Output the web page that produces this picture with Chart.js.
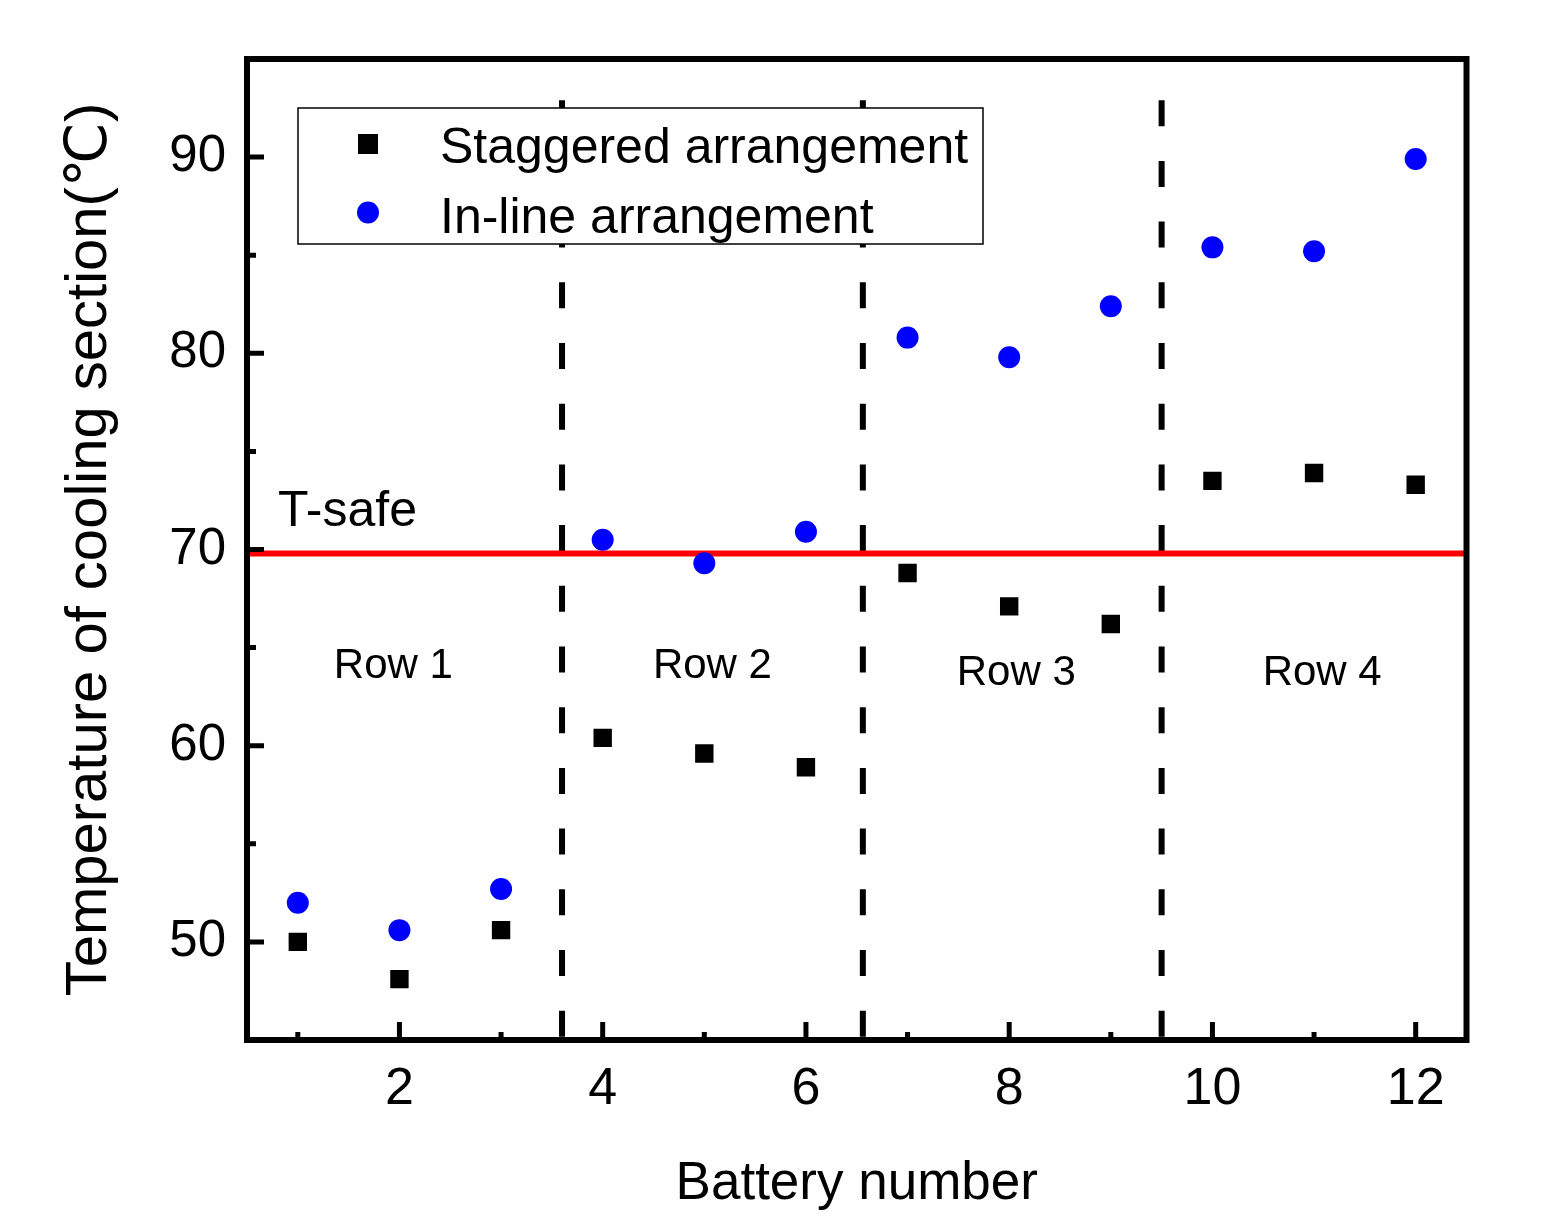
<!DOCTYPE html>
<html lang="en">
<head>
    <meta charset="UTF-8">
    <title>Temperature of cooling section</title>
    <script src="https://cdn.jsdelivr.net/npm/chart.js"></script>
    <style>
        html, body { margin: 0; padding: 0; background: #fff; }
        #grafico { width: 1543px; height: 1218px; }
    </style>
</head>
<body>
    <div id="grafico">
        <canvas id="grafico-info" width="1543" height="1218"></canvas>
    </div>
    <script>
        // data
        const batteries = [1, 2, 3, 4, 5, 6, 7, 8, 9, 10, 11, 12];
        const staggered = [50.0, 48.1, 50.6, 60.4, 59.6, 58.9, 68.8, 67.1, 66.2, 73.5, 73.9, 73.3];
        const inLine = [52.0, 50.6, 52.7, 70.5, 69.3, 70.9, 80.8, 79.8, 82.4, 85.4, 85.2, 89.9];
        const tSafe = 69.8;
        const rowBounds = [3.6, 6.56, 9.5];
        const rowNames = ['Row 1', 'Row 2', 'Row 3', 'Row 4'];
        const xTicks = [2, 4, 6, 8, 10, 12];
        const xMinor = [1, 3, 5, 7, 9, 11];
        const yTicks = [50, 60, 70, 80, 90];
        const yMinor = [55, 65, 75, 85];

        const FONT = "'Liberation Sans', Arial, 'DejaVu Sans', sans-serif";
        Chart.defaults.font.family = FONT;
        Chart.defaults.color = '#000';

        // where the annotation texts sit, in data units
        const rowLabelPos = [[1.94, 63.45], [5.08, 63.45], [8.07, 63.1], [11.08, 63.1]];
        const tSafeLabelPos = [0.805, 71.2];

        const decor = {
            id: 'decor',
            afterDatasetsDraw(chart) {
                const { ctx, chartArea: a, scales: { x, y } } = chart;
                const ds = chart.data.datasets;
                ctx.save();

                // legend box
                const lx = a.left + 51, ly = a.top + 49, lw = 685, lh = 136;
                ctx.fillStyle = '#fff';
                ctx.fillRect(lx, ly, lw, lh);
                ctx.lineWidth = 1.5;
                ctx.strokeStyle = '#000';
                ctx.strokeRect(lx, ly, lw, lh);

                ctx.fillStyle = ds[0].backgroundColor;
                ctx.fillRect(lx + 60, ly + 26, 20, 20);
                ctx.fillStyle = ds[1].backgroundColor;
                ctx.beginPath();
                ctx.arc(lx + 70, ly + 104.5, 11, 0, Math.PI * 2);
                ctx.fill();

                ctx.fillStyle = '#000';
                ctx.font = '50px ' + FONT;
                ctx.textAlign = 'left';
                ctx.textBaseline = 'alphabetic';
                ctx.fillText(ds[0].label, lx + 142, ly + 55);
                ctx.fillText(ds[1].label, lx + 142, ly + 125);

                // frame
                ctx.lineWidth = 6;
                ctx.strokeRect(a.left, a.top, a.right - a.left, a.bottom - a.top);

                // inward ticks
                ctx.lineWidth = 5;
                ctx.beginPath();
                xTicks.concat(xMinor).forEach(v => {
                    const px = x.getPixelForValue(v);
                    const len = xTicks.includes(v) ? 18 : 8;
                    ctx.moveTo(px, a.bottom);
                    ctx.lineTo(px, a.bottom - len);
                });
                yTicks.concat(yMinor).forEach(v => {
                    const py = y.getPixelForValue(v);
                    const len = yTicks.includes(v) ? 17 : 9;
                    ctx.moveTo(a.left, py);
                    ctx.lineTo(a.left + len, py);
                });
                ctx.stroke();

                // row labels
                ctx.font = '42px ' + FONT;
                ctx.textAlign = 'center';
                rowNames.forEach((name, i) => {
                    ctx.fillText(name, x.getPixelForValue(rowLabelPos[i][0]), y.getPixelForValue(rowLabelPos[i][1]));
                });

                // T-safe
                ctx.font = '50px ' + FONT;
                ctx.textAlign = 'left';
                ctx.fillText('T-safe', x.getPixelForValue(tSafeLabelPos[0]), y.getPixelForValue(tSafeLabelPos[1]));

                ctx.restore();
            }
        };

        function criarGrafico() {
            const ctx = document.getElementById('grafico-info').getContext('2d');

            const datasets = [
                {
                    label: 'Staggered arrangement',
                    data: batteries.map((b, i) => ({ x: b, y: staggered[i] })),
                    pointStyle: 'rect',
                    pointRadius: 13,
                    backgroundColor: '#000000',
                    borderWidth: 0
                },
                {
                    label: 'In-line arrangement',
                    data: batteries.map((b, i) => ({ x: b, y: inLine[i] })),
                    pointStyle: 'circle',
                    pointRadius: 11,
                    backgroundColor: '#0000ff',
                    borderWidth: 0
                },
                {
                    label: 'T-safe',
                    data: [{ x: 0.5, y: tSafe }, { x: 12.5, y: tSafe }],
                    showLine: true,
                    borderColor: '#ff0000',
                    borderWidth: 6,
                    pointRadius: 0
                }
            ];

            rowBounds.forEach(b => {
                datasets.push({
                    label: '',
                    data: [{ x: b, y: 92.9 }, { x: b, y: 45 }],
                    showLine: true,
                    borderColor: '#000000',
                    borderWidth: 6,
                    borderDash: [26, 34.7],
                    pointRadius: 0
                });
            });

            const config = {
                type: 'scatter',
                data: { datasets: datasets },
                options: {
                    responsive: false,
                    animation: false,
                    events: [],
                    layout: { padding: { top: 59, right: 76.5, left: 0, bottom: 0 } },
                    plugins: {
                        legend: { display: false },
                        tooltip: { enabled: false }
                    },
                    scales: {
                        x: {
                            type: 'linear',
                            min: 0.5,
                            max: 12.5,
                            afterBuildTicks: s => { s.ticks = xTicks.map(v => ({ value: v })); },
                            afterFit: s => { s.height = 178; },
                            grid: { display: false, drawTicks: false },
                            border: { display: false },
                            ticks: {
                                font: { size: 52 },
                                padding: 18,
                                maxRotation: 0,
                                autoSkip: false,
                                callback: v => String(v)
                            },
                            title: {
                                display: true,
                                text: 'Battery number',
                                font: { size: 53 },
                                padding: { top: 0, bottom: 1.5 }
                            }
                        },
                        y: {
                            type: 'linear',
                            min: 45,
                            max: 95,
                            afterBuildTicks: s => { s.ticks = yTicks.map(v => ({ value: v })); },
                            afterFit: s => { s.width = 247; },
                            grid: { display: false, drawTicks: false },
                            border: { display: false },
                            ticks: {
                                font: { size: 51 },
                                padding: 21,
                                autoSkip: false,
                                callback: v => String(v)
                            },
                            title: {
                                display: true,
                                text: 'Temperature of cooling section(℃)',
                                font: { size: 58 },
                                padding: { top: 55, bottom: 0 }
                            }
                        }
                    }
                },
                plugins: [decor]
            };
            new Chart(ctx, config);
        }

        window.onload = function() {
            criarGrafico();
        };
    </script>
</body>
</html>
